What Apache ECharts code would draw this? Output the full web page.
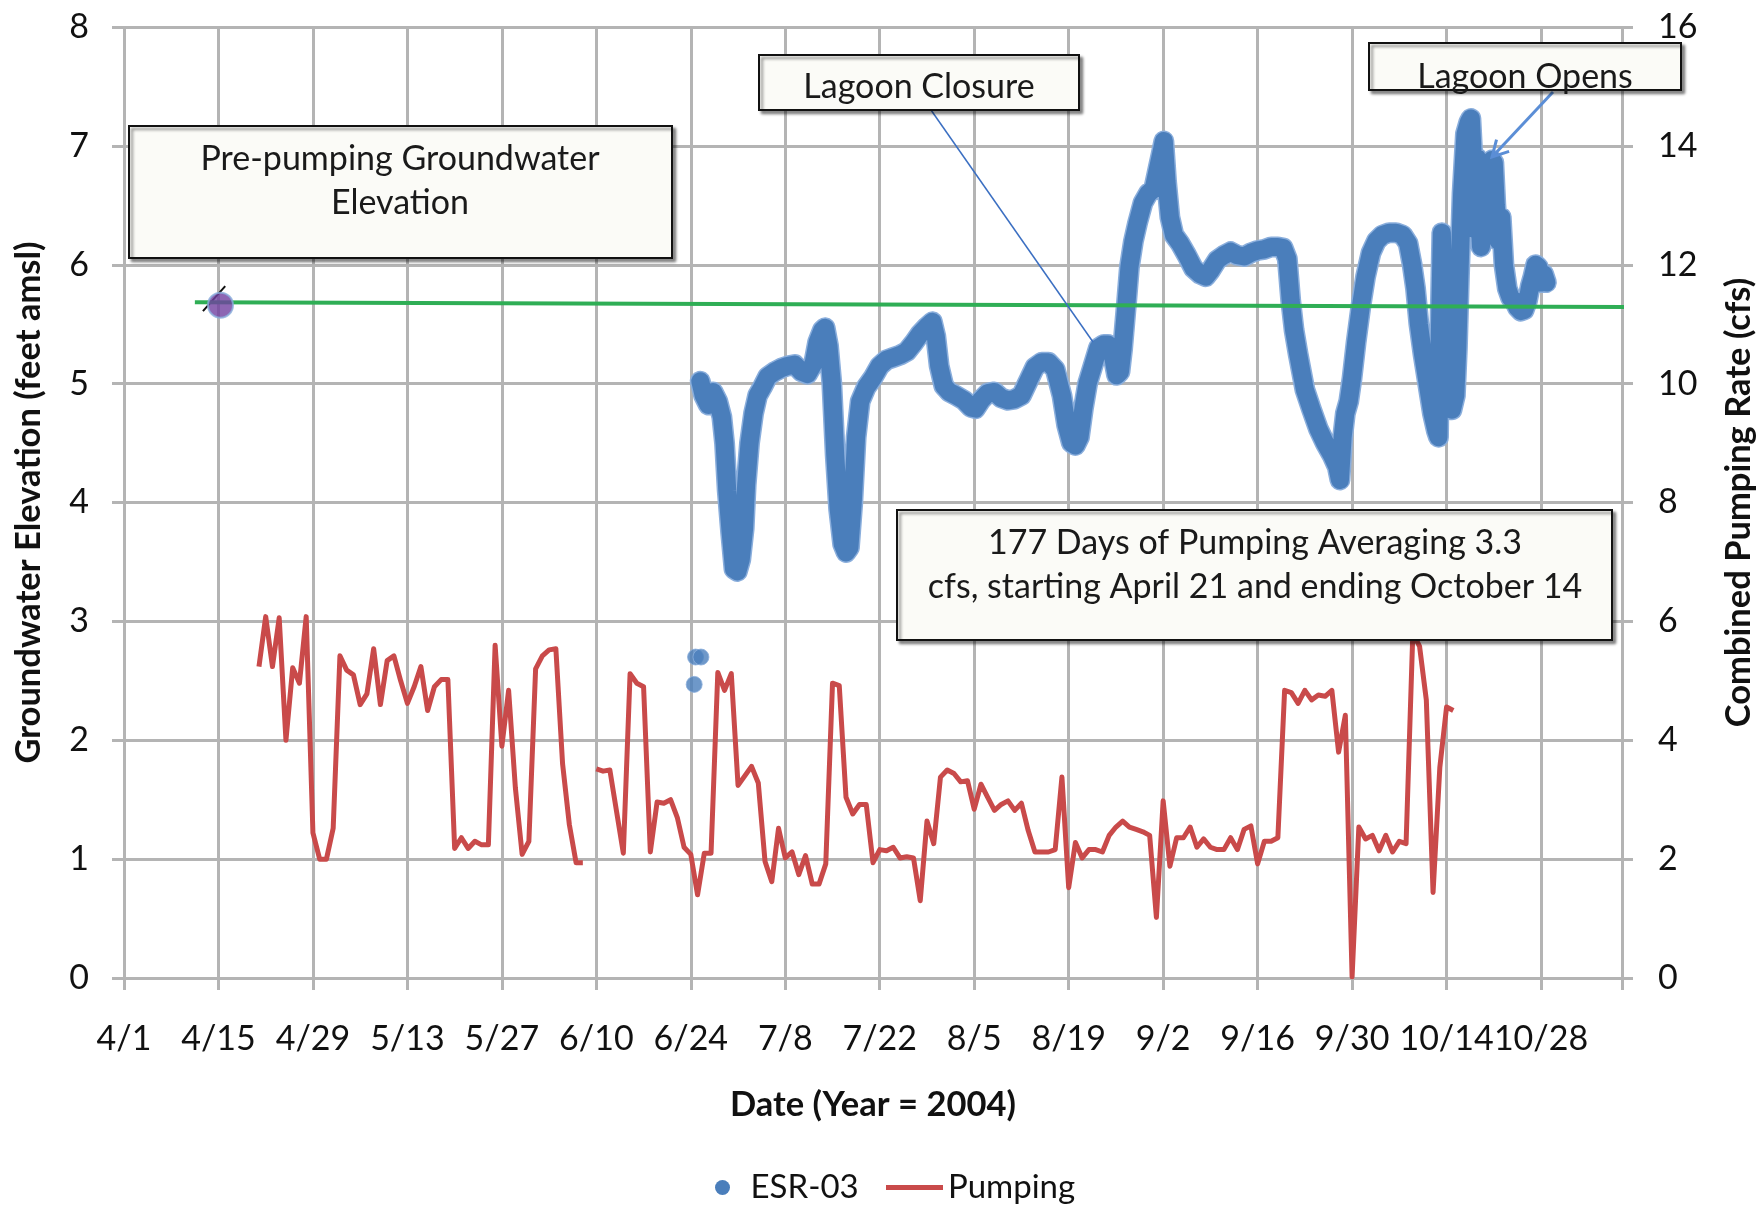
<!DOCTYPE html>
<html>
<head>
<meta charset="utf-8">
<script src="https://cdn.jsdelivr.net/npm/echarts@6/dist/echarts.min.js"></script>
<style>
  html, body { margin: 0; background: #fff; }
  #chart { width: 1758px; height: 1208px; }
</style>
</head>
<body>
<div id="chart"></div>
<script>
// x values are days since 4/1/2004
const START = Date.UTC(2004, 3, 1);

// ESR-03 groundwater elevation (feet amsl)
const esrDay = [
  85.4, 85.9, 86.6, 87.3, 88.0, 88.6, 89.0, 89.4, 89.9, 90.4, 90.9, 91.4, 91.9, 92.2, 92.7, 93.3, 93.9, 94.6, 95.4, 96.4,
  97.4, 98.4, 99.4, 100.4, 101.3, 102.2, 102.8, 103.5, 103.9, 104.4, 104.9, 105.4, 105.9, 106.5, 107.0, 107.5, 108.0, 108.5, 109.1, 110.0,
  111.0, 112.0, 113.0, 114.0, 115.0, 116.0, 117.0, 118.0, 119.0, 119.8, 120.3, 120.8, 121.5, 122.3, 123.3, 124.5, 125.5, 126.2, 127.0, 128.0,
  129.0, 130.0, 131.0, 132.0, 133.0, 134.0, 135.0, 136.0, 137.0, 138.0, 139.0, 139.7, 140.4, 141.0, 141.6, 142.2, 142.8, 143.6, 144.4, 145.2,
  145.8, 146.5, 147.1, 147.6, 148.0, 148.6, 149.0, 149.6, 150.2, 151.0, 151.8, 152.6, 153.2, 153.7, 154.1, 154.5, 155.0, 155.6, 156.5, 157.5,
  158.5, 159.5, 160.3, 161.0, 162.0, 163.0, 164.0, 165.0, 166.0, 167.0, 168.0, 169.0, 170.0, 171.0, 171.8, 172.4, 172.9, 173.4, 174.0, 175.0,
  176.0, 177.0, 178.0, 179.0, 179.8, 180.2, 180.6, 181.0, 181.5, 182.0, 182.6, 183.3, 184.0, 184.8, 185.6, 186.5, 187.5, 188.5, 189.5, 190.3,
  190.9, 191.4, 191.9, 192.5, 193.2, 193.9, 194.5, 194.8, 195.0, 195.3, 195.6, 195.9, 196.3, 196.8, 197.3, 197.6, 197.9, 198.3, 198.8, 199.3,
  199.6, 199.9, 200.2, 200.5, 200.8, 201.1, 201.5, 201.9, 202.3, 202.7, 203.0, 203.3, 203.7, 204.1, 204.5, 205.0, 205.5, 206.0, 206.5, 207.0,
  207.5, 208.0, 208.4, 208.8, 209.2, 209.6, 210.0, 210.4, 210.8
];
const esrLevel = [
  5.02, 4.90, 4.82, 4.93, 4.85, 4.72, 4.50, 4.10, 3.75, 3.44, 3.42, 3.52, 3.78, 4.15, 4.50, 4.75, 4.90, 4.97, 5.06, 5.10,
  5.13, 5.15, 5.16, 5.10, 5.08, 5.17, 5.35, 5.45, 5.47, 5.32, 5.00, 4.40, 3.95, 3.65, 3.58, 3.62, 4.00, 4.55, 4.85, 4.97,
  5.05, 5.15, 5.20, 5.22, 5.24, 5.27, 5.34, 5.42, 5.48, 5.52, 5.40, 5.15, 4.98, 4.93, 4.90, 4.86, 4.80, 4.79, 4.86, 4.92,
  4.93, 4.88, 4.86, 4.87, 4.90, 5.02, 5.14, 5.18, 5.18, 5.12, 4.90, 4.65, 4.50, 4.48, 4.55, 4.80, 5.00, 5.15, 5.30, 5.33,
  5.33, 5.25, 5.07, 5.10, 5.30, 5.70, 5.98, 6.20, 6.35, 6.52, 6.60, 6.64, 6.80, 6.93, 7.04, 6.70, 6.40, 6.25, 6.18, 6.08,
  5.97, 5.92, 5.90, 5.95, 6.04, 6.08, 6.11, 6.08, 6.07, 6.10, 6.12, 6.13, 6.15, 6.15, 6.14, 6.05, 5.70, 5.45, 5.25, 4.95,
  4.78, 4.62, 4.50, 4.40, 4.30, 4.19, 4.55, 4.75, 4.85, 5.05, 5.35, 5.65, 5.90, 6.10, 6.20, 6.25, 6.27, 6.27, 6.25, 6.18,
  6.00, 5.80, 5.50, 5.25, 5.00, 4.75, 4.60, 4.55, 5.40, 6.27, 5.60, 5.10, 4.85, 4.78, 4.90, 5.30, 5.90, 6.60, 7.10, 7.20,
  7.23, 6.90, 6.30, 6.90, 6.50, 6.15, 6.70, 6.30, 6.80, 6.88, 6.86, 6.50, 6.20, 6.40, 6.00, 5.80, 5.72, 5.70, 5.64, 5.61,
  5.62, 5.70, 5.82, 5.90, 6.00, 5.98, 5.85, 5.92, 5.85
];
// a few isolated ESR-03 readings near 6/24
const esrStrayDay = [84.5, 84.7, 85.5];
const esrStrayLevel = [2.47, 2.70, 2.70];

// combined pumping rate (cfs), one value per day from 4/21; '-' = no record
const pumpStartDay = 20;
const pumpRate = [
  5.24, 6.08, 5.24, 6.06, 4.00, 5.22, 4.96, 6.08, 2.44, 2.00, 2.00, 2.52, 5.42, 5.18, 5.10, 4.60, 4.78, 5.54, 4.60, 5.34,
  5.42, 5.00, 4.62, 4.90, 5.24, 4.50, 4.90, 5.02, 5.02, 2.18, 2.36, 2.18, 2.30, 2.24, 2.24, 5.60, 3.90, 4.84, 3.20, 2.08,
  2.30, 5.20, 5.42, 5.52, 5.54, 3.60, 2.58, 1.94, 1.94, '-', 3.52, 3.48, 3.50, 2.80, 2.10, 5.12, 4.96, 4.90, 2.12, 2.96,
  2.94, 3.00, 2.70, 2.20, 2.08, 1.40, 2.10, 2.10, 5.14, 4.84, 5.12, 3.24, 3.40, 3.56, 3.28, 1.96, 1.62, 2.52, 2.02, 2.12,
  1.74, 2.06, 1.58, 1.58, 1.92, 4.96, 4.92, 3.04, 2.76, 2.92, 2.92, 1.94, 2.16, 2.14, 2.20, 2.02, 2.04, 2.02, 1.30, 2.64,
  2.26, 3.38, 3.50, 3.44, 3.30, 3.32, 2.84, 3.26, 3.04, 2.82, 2.92, 2.98, 2.82, 2.94, 2.48, 2.12, 2.12, 2.12, 2.16, 3.38,
  1.52, 2.28, 2.02, 2.16, 2.16, 2.12, 2.40, 2.54, 2.64, 2.54, 2.50, 2.46, 2.40, 1.02, 2.98, 1.88, 2.36, 2.36, 2.54, 2.20,
  2.34, 2.20, 2.16, 2.16, 2.36, 2.16, 2.50, 2.56, 1.92, 2.30, 2.30, 2.36, 4.84, 4.80, 4.62, 4.84, 4.68, 4.76, 4.74, 4.84,
  3.80, 4.42, 0.02, 2.54, 2.34, 2.40, 2.14, 2.40, 2.12, 2.30, 2.26, 5.80, 5.58, 4.68, 1.44, 3.54, 4.56, 4.50
];

// pre-pumping groundwater elevation
const prePumpDay = [14.3];
const prePumpLevel = [5.66];
const baselineDay = [10.5, 224.4];
const baselineLevel = [5.685, 5.645];

const FONT = 'Lato, "Liberation Sans", sans-serif';
const GRID_COLOR = '#b4b4b4';
const TEXT_COLOR = '#111';

const fmtDay = (d) => {
  if (d % 14 !== 0) return '';
  const t = new Date(START + d * 86400000);
  return `${t.getUTCMonth() + 1}/${t.getUTCDate()}`;
};

const esrData = esrDay.map((d, i) => [d, esrLevel[i]]);
const esrStrayData = esrStrayDay.map((d, i) => [d, esrStrayLevel[i]]);
const pumpData = pumpRate.map((v, i) => [pumpStartDay + i, v]);
const prePumpData = prePumpDay.map((d, i) => [d, prePumpLevel[i]]);
const baselineData = baselineDay.map((d, i) => [d, baselineLevel[i]]);

// text boxes drawn over the plot
const boxText = { font: `34px ${FONT}`, fill: '#1a1a1a', align: 'center', verticalAlign: 'middle', lineHeight: 44 };
const notes = [
  { x: 129, y: 126, w: 543, h: 132, text: 'Pre-pumping Groundwater\nElevation', tx: 400, ty: 181 },
  { x: 759, y: 55, w: 320, h: 55, text: 'Lagoon Closure', tx: 919, ty: 87 },
  { x: 1369, y: 43, w: 312, h: 47, text: 'Lagoon Opens', tx: 1525, ty: 77 },
  { x: 897, y: 510, w: 715, h: 130, text: '177 Days of Pumping Averaging 3.3\ncfs, starting April 21 and ending October 14', tx: 1255, ty: 565 }
];

function arrowHead(x1, y1, x2, y2, len) {
  const a = Math.atan2(y2 - y1, x2 - x1);
  return [
    [x2 - len * Math.cos(a - 0.5), y2 - len * Math.sin(a - 0.5)],
    [x2, y2],
    [x2 - len * Math.cos(a + 0.5), y2 - len * Math.sin(a + 0.5)]
  ];
}

const graphics = [];
notes.forEach((n) => {
  graphics.push({
    type: 'rect', z: 100,
    shape: { x: n.x, y: n.y, width: n.w, height: n.h },
    style: { fill: '#fbfbf7', stroke: '#111', lineWidth: 2, shadowColor: 'rgba(0,0,0,0.45)', shadowBlur: 3, shadowOffsetX: 3, shadowOffsetY: 3 }
  });
  graphics.push({ type: 'text', z: 101, style: Object.assign({ text: n.text, x: n.tx, y: n.ty }, boxText) });
});
// callout for lagoon closure
graphics.push({ type: 'line', z: 99, shape: { x1: 931, y1: 110, x2: 1093, y2: 342 }, style: { stroke: '#3b6fc2', lineWidth: 1.5 } });
// arrow for lagoon opens
graphics.push({ type: 'line', z: 99, shape: { x1: 1553, y1: 92, x2: 1492, y2: 157 }, style: { stroke: '#5b8ed6', lineWidth: 3 } });
graphics.push({ type: 'polyline', z: 99, shape: { points: arrowHead(1553, 92, 1492, 157, 18) }, style: { stroke: '#5b8ed6', lineWidth: 3, fill: null } });

const chart = echarts.init(document.getElementById('chart'), null, { renderer: 'canvas' });

const option = {
  backgroundColor: '#fff',
  animation: false,
  textStyle: { fontFamily: FONT },
  grid: { left: 124, right: 136, top: 27, bottom: 230, containLabel: false, outerBoundsMode: 'none' },
  legend: [
    {
      data: [{ name: 'ESR-03', icon: 'circle' }],
      left: 710, top: 1166, itemWidth: 46, itemHeight: 15,
      textStyle: { fontSize: 33, color: TEXT_COLOR, fontFamily: FONT }
    },
    {
      data: [{ name: 'Pumping', icon: 'rect' }],
      left: 881, top: 1166, itemWidth: 57, itemHeight: 5,
      textStyle: { fontSize: 33, color: TEXT_COLOR, fontFamily: FONT }
    }
  ],
  xAxis: {
    type: 'value', min: 0, max: 222, interval: 14,
    name: 'Date (Year = 2004)', nameLocation: 'middle', nameGap: 109,
    nameTextStyle: { fontSize: 34.5, fontWeight: 'bold', color: TEXT_COLOR, fontFamily: FONT },
    axisLine: { show: false },
    axisTick: { show: true, length: 12, lineStyle: { color: GRID_COLOR, width: 3 } },
    axisLabel: { formatter: fmtDay, fontSize: 34, color: TEXT_COLOR, margin: 44, fontFamily: FONT },
    splitLine: { show: true, lineStyle: { color: GRID_COLOR, width: 3 } }
  },
  yAxis: [
    {
      type: 'value', min: 0, max: 8, interval: 1, position: 'left',
      name: 'Groundwater Elevation (feet amsl)', nameLocation: 'middle', nameGap: 78,
      nameTextStyle: { fontSize: 34.5, fontWeight: 'bold', color: TEXT_COLOR, fontFamily: FONT },
      axisLine: { show: false },
      axisTick: { show: true, length: 12, lineStyle: { color: GRID_COLOR, width: 3 } },
      axisLabel: { fontSize: 34, color: TEXT_COLOR, margin: 35, fontFamily: FONT },
      splitLine: { show: true, lineStyle: { color: GRID_COLOR, width: 3 } }
    },
    {
      type: 'value', min: 0, max: 16, interval: 2, position: 'right',
      name: 'Combined Pumping Rate (cfs)', nameLocation: 'middle', nameGap: 99,
      nameTextStyle: { fontSize: 34.5, fontWeight: 'bold', color: TEXT_COLOR, fontFamily: FONT },
      axisLine: { show: false },
      axisTick: { show: true, length: 11, lineStyle: { color: GRID_COLOR, width: 3 } },
      axisLabel: { fontSize: 34, color: TEXT_COLOR, margin: 36, fontFamily: FONT },
      splitLine: { show: false }
    }
  ],
  series: [
    {
      name: 'esr-rim', type: 'line', yAxisIndex: 0, data: esrData,
      showSymbol: false, silent: true, z: 2,
      lineStyle: { color: '#8aaedc', width: 21, cap: 'round', join: 'round' }
    },
    {
      name: 'ESR-03', type: 'line', yAxisIndex: 0, data: esrData,
      showSymbol: false, z: 3,
      itemStyle: { color: '#4a7ebb' },
      lineStyle: { color: '#4a7ebb', width: 18, cap: 'round', join: 'round' }
    },
    {
      name: 'ESR-03', type: 'scatter', yAxisIndex: 0, data: esrStrayData,
      symbolSize: 16, z: 3,
      itemStyle: { color: '#4a7ebb', borderColor: '#8aaedc', borderWidth: 1 }
    },
    {
      name: 'Pumping', type: 'line', yAxisIndex: 1, data: pumpData,
      showSymbol: false, connectNulls: false, z: 4,
      itemStyle: { color: '#c94a4a' },
      lineStyle: { color: '#c94a4a', width: 5, join: 'round' }
    },
    {
      name: 'baseline', type: 'line', yAxisIndex: 0, data: baselineData,
      showSymbol: false, clip: false, silent: true, z: 5,
      lineStyle: { color: '#2fae55', width: 4 }
    },
    {
      name: 'pre-pumping', type: 'scatter', yAxisIndex: 0, data: prePumpData,
      symbolSize: 25, z: 6,
      itemStyle: { color: '#7040a0', borderColor: '#8aaedc', borderWidth: 2 },
      markLine: {
        silent: true, symbol: 'none', label: { show: false },
        lineStyle: { color: '#111', width: 2, type: 'solid' },
        data: [[{ coord: [11.7, 5.61] }, { coord: [15.0, 5.82] }]]
      }
    }
  ],
  graphic: graphics
};

chart.setOption(option);
</script>
</body>
</html>
